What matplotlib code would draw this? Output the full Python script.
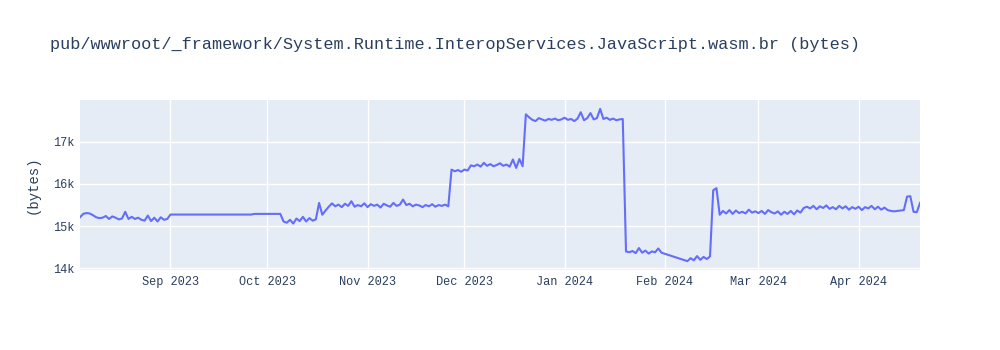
import matplotlib
matplotlib.use("Agg")
import matplotlib.pyplot as plt
import matplotlib.dates as mdates
from matplotlib.ticker import FuncFormatter
import pandas as pd

# daily sizes, Aug 4 - Aug 31 2023
aug_start = "2023-08-04"
aug_vals = [15210, 15290, 15310, 15300, 15260, 15210, 15190, 15200, 15240, 15170,
            15230, 15200, 15160, 15180, 15340, 15170, 15220, 15170, 15200, 15150,
            15130, 15250, 15120, 15200, 15110, 15210, 15150, 15170]

# sparse points through September (gap in the data)
sep_dates = ["2023-09-01", "2023-09-26", "2023-09-27", "2023-10-05"]
sep_vals = [15274, 15274, 15290, 15290]

# daily sizes, Oct 6 2023 - Jan 31 2024
main_start = "2023-10-06"
main_vals = [
    # Oct 6 - Oct 31
    15110, 15080, 15150, 15060, 15180, 15120, 15220, 15110, 15190, 15130,
    15160, 15550, 15270, 15370, 15460, 15540, 15470, 15510, 15450, 15530,
    15480, 15590, 15460, 15500, 15470, 15540,
    # Nov
    15450, 15520, 15480, 15510, 15440, 15530, 15490, 15460, 15550, 15480,
    15510, 15630, 15500, 15530, 15470, 15510, 15490, 15450, 15500, 15470,
    15520, 15460, 15500, 15480, 15510, 15470, 16340, 16300, 16330, 16290,
    # Dec
    16340, 16320, 16440, 16420, 16460, 16410, 16500, 16430, 16470, 16420,
    16450, 16490, 16430, 16460, 16410, 16580, 16380, 16590, 16420, 17650,
    17580, 17520, 17490, 17560, 17530, 17500, 17540, 17520, 17550, 17510,
    17530,
    # Jan
    17570, 17520, 17540, 17490, 17550, 17700, 17510, 17560, 17680, 17530,
    17560, 17780, 17540, 17570, 17520, 17550, 17510, 17530, 17540, 14400,
    14380, 14410, 14360, 14480, 14370, 14420, 14350, 14400, 14380, 14470,
    14370,
]

# daily sizes, Feb 8 - Apr 20 2024
spring_start = "2024-02-08"
spring_vals = [
    # Feb 8 - Feb 29
    14170, 14240, 14190, 14290, 14200, 14270, 14220, 14280, 15850, 15900,
    15270, 15360, 15300, 15380, 15290, 15370, 15310, 15340, 15300, 15390,
    15320, 15350,
    # Mar
    15310, 15360, 15290, 15380, 15330, 15300, 15350, 15270, 15340, 15290,
    15360, 15280, 15370, 15320, 15430, 15460, 15420, 15480, 15400, 15470,
    15430, 15490, 15410, 15450, 15400, 15480, 15420, 15470, 15390, 15450,
    15410,
    # Apr 1 - Apr 20
    15460, 15380, 15450, 15420, 15480, 15400, 15460, 15390, 15440, 15380,
    15360, 15350, 15360, 15370, 15380, 15700, 15710, 15340, 15330, 15550,
]

dates = (list(pd.date_range(aug_start, periods=len(aug_vals), freq="D"))
         + list(pd.to_datetime(sep_dates))
         + list(pd.date_range(main_start, periods=len(main_vals), freq="D"))
         + list(pd.date_range(spring_start, periods=len(spring_vals), freq="D")))
sizes = aug_vals + sep_vals + main_vals + spring_vals

font = "Liberation Mono"
txt = "#2a3f5f"

fig = plt.figure(figsize=(10, 3.5), dpi=100)
ax = fig.add_axes([0.08, 80 / 350, 0.84, 170 / 350])
ax.set_facecolor("#E5ECF6")
ax.plot(dates, sizes, color="#636EFA", linewidth=1.5)

ax.set_xlim(dates[0], dates[-1])
ax.set_ylim(13960, 17990)
ax.set_yticks([14000, 15000, 16000, 17000])
ax.yaxis.set_major_formatter(FuncFormatter(lambda v, p: f"{int(v / 1000)}k"))
ax.xaxis.set_major_locator(mdates.MonthLocator())
ax.xaxis.set_major_formatter(mdates.DateFormatter("%b %Y"))

ax.grid(True, color="white", linewidth=1)
ax.set_axisbelow(True)
for s in ax.spines.values():
    s.set_visible(False)
ax.tick_params(length=0, labelsize=8.6, labelcolor=txt, pad=4)
for lab in ax.get_xticklabels() + ax.get_yticklabels():
    lab.set_fontfamily(font)

ax.set_ylabel("(bytes)", fontsize=10, color=txt, fontfamily=font, labelpad=10)
fig.text(0.05, 1 - 45 / 350,
         "pub/wwwroot/_framework/System.Runtime.InteropServices.JavaScript.wasm.br (bytes)",
         fontsize=12.2, color=txt, fontfamily=font, va="center", ha="left")

fig.savefig("out.png", dpi=100)
